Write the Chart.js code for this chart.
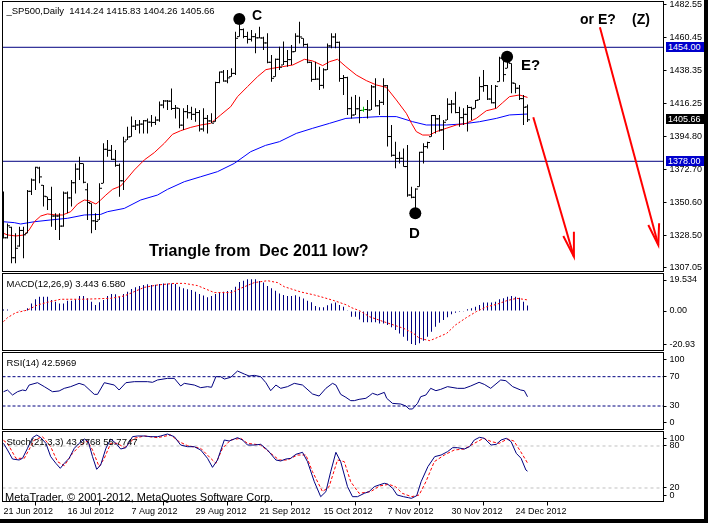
<!DOCTYPE html>
<html>
<head>
<meta charset="utf-8">
<script src="https://cdn.jsdelivr.net/npm/chart.js@4.4.1/dist/chart.umd.min.js"></script>
<style>
  html, body { margin: 0; padding: 0; background: #fff; }
  #wrap { position: relative; width: 708px; height: 523px; overflow: hidden; background: #fff;
          font-family: "Liberation Sans", Arial, sans-serif; }
  canvas { position: absolute; left: 0; }
  .lbl { position: absolute; white-space: pre; line-height: 1; font-size: 9.5px; color: #000; }
  .big { position: absolute; white-space: pre; line-height: 1; font-weight: bold; color: #000; }
  .box { position: absolute; left: 666px; width: 39px; height: 10px; line-height: 10px; font-size: 9px;
         color: #fff; padding-left: 2px; box-sizing: border-box; }
  .edge { position: absolute; background: #000; }
</style>
</head>
<body>
<div id="wrap">
  <canvas id="cMain" width="708" height="273" style="top:0"></canvas>
  <canvas id="cMacd" width="708" height="80" style="top:272px"></canvas>
  <canvas id="cRsi" width="708" height="80" style="top:351px"></canvas>
  <canvas id="cStoch" width="708" height="93" style="top:430px"></canvas>

  <div class="lbl" style="left:6.5px;top:6px">_SP500,Daily  1414.24 1415.83 1404.26 1405.66</div>
  <div class="lbl" style="left:6.5px;top:279px">MACD(12,26,9) 3.443 6.580</div>
  <div class="lbl" style="left:6.5px;top:358px">RSI(14) 42.5969</div>
  <div class="lbl" style="left:6.5px;top:437px">Stoch(21,3,3) 43.9768 55.7747</div>
  <div class="lbl" style="left:5px;top:492px;font-size:11px">MetaTrader, © 2001-2012, MetaQuotes Software Corp.</div>

  <div class="big" style="left:252px;top:8px;font-size:14px">C</div>
  <div class="big" style="left:521px;top:57px;font-size:15px">E?</div>
  <div class="big" style="left:409px;top:224.5px;font-size:15px">D</div>
  <div class="big" style="left:580px;top:11.5px;font-size:14px">or E?</div>
  <div class="big" style="left:632px;top:11.5px;font-size:14px">(Z)</div>
  <div class="big" style="left:149px;top:243px;font-size:16px">Triangle from  Dec 2011 low?</div>

  <div class="box" style="top:42px;background:#0000cc">1454.00</div>
  <div class="box" style="top:156px;background:#0000cc">1378.00</div>
  <div class="box" style="top:113.5px;background:#000">1405.66</div>

  <div class="edge" style="left:704px;top:0;width:4px;height:523px"></div>
  <div class="edge" style="left:0;top:519px;width:708px;height:4px"></div>
</div>
<script>
// bar index i sits at 3.5 + 4*i px; ticks every 16 bars
const xMin = -0.25, xMax = 165;
const dateTicks = [0, 16, 32, 48, 64, 80, 96, 112, 128];
const dateLabels = ['21 Jun 2012', '16 Jul 2012', '7 Aug 2012', '29 Aug 2012', '21 Sep 2012',
                    '15 Oct 2012', '7 Nov 2012', '30 Nov 2012', '24 Dec 2012'];
const priceTicks = [1482.55, 1460.45, 1438.35, 1416.25, 1394.80, 1372.70, 1350.60, 1328.50, 1307.05];
const macdTicks = [19.534, 0, -20.93];
const macdTickLabels = ['19.534', '0.00', '-20.93'];
// MetaTrader pulls the end labels inside the pane, so they sit a little in from 100 / 0
const rsiTickAt = [93.7, 70, 30, 7.2];
const rsiTickLabels = ['100', '70', '30', '0'];
const stochTickAt = [91, 80, 20, 9];
const stochTickLabels = ['100', '80', '20', '0'];

const barOpen = [1357.5,1327,1334,1313.7,1321.5,1331.9,1330,1358,1365.5,1373.5,
  1362,1354.4,1352.5,1341.5,1341.5,1334.8,1356.8,1353.6,1363.7,1372.8,
  1376.5,1359,1350,1338.3,1338.9,1363.3,1386,1385.3,1379.3,1375.3,
  1365,1392.2,1394.4,1401.4,1402.2,1402.8,1405,1404.1,1403.9,1405.5,
  1415.5,1418.2,1418.1,1413.2,1413.3,1402.1,1411.1,1410.4,1409.3,1410.5,
  1399.5,1406.6,1404.9,1404.4,1430.5,1437.5,1431.5,1434.4,1436.6,1461.1,
  1465.8,1461.2,1459.3,1461.1,1460.3,1460.2,1456.9,1444,1434.4,1446,
  1442.2,1444.5,1445.8,1451.1,1461.4,1460,1455.9,1444,1432.6,1432.8,
  1428.6,1439,1454.9,1460.9,1457.3,1433.2,1433.8,1413.1,1408.9,1413,
  1412,1412.5,1412.2,1427.6,1415,1417.3,1428.4,1394.5,1382,1379.9,
  1380,1374.5,1355.5,1354,1361.1,1384,1387.8,1394.4,1408.5,1406.3,
  1398.9,1405.5,1416,1416.2,1410.5,1407.1,1409.3,1413.9,1413.3,1418.9,
  1427.8,1428.5,1419.5,1417,1431.1,1446.8,1440,1443.3,1430,1426.7,
  1419.8,1414.24];
const barHigh = [1357.8,1336.6,1334.4,1330,1334.4,1334.4,1358.9,1366.6,1374.4,1374.4,
  1362.2,1354.4,1361.1,1343.3,1343.3,1357.8,1357.8,1365.5,1376.6,1381.1,
  1376.6,1363.3,1350,1343.3,1363.3,1390,1392.2,1388.9,1385.5,1376.6,
  1394.4,1401.1,1407.8,1405.5,1405.5,1405.5,1406.6,1408.9,1407.8,1417.8,
  1418.9,1418.9,1426.6,1415.5,1413.3,1413.3,1415.5,1414.4,1413.3,1412.2,
  1413.3,1408.9,1410,1431.1,1437.8,1438.9,1438.9,1440,1464.4,1468.9,
  1466.6,1464.4,1465.5,1463.3,1467.7,1461.1,1463.3,1448.9,1446.6,1454.4,
  1457.8,1452.2,1455.5,1463.3,1471.1,1460,1456.6,1444.4,1444.4,1441.1,
  1440,1456.6,1463.3,1463.3,1457.8,1435.5,1434.4,1421.1,1422.2,1421.1,
  1414.4,1418.9,1428.9,1433.3,1418.9,1433.3,1428.9,1402.2,1391.1,1384.4,
  1386.6,1388.9,1361.1,1360,1384.4,1390,1391.1,1408.9,1408.9,1408.9,
  1405.5,1420,1418.9,1424.4,1414.4,1413.3,1415.5,1414.4,1418.9,1434.4,
  1438.9,1428.9,1428.9,1428.9,1447.7,1450,1448.9,1443.3,1430,1428.9,
  1422.2,1415.83];
const barLow = [1326.6,1326.6,1310,1310,1321.1,1313.3,1330,1355.5,1358.9,1363.3,
  1347.8,1345.5,1334.4,1332.2,1325.5,1334.4,1343.3,1347.8,1356.6,1365.5,
  1363.3,1338.9,1330,1332.2,1338.9,1363.3,1381.1,1378.9,1374.4,1354.4,
  1358.9,1392.2,1394.4,1398.9,1396.6,1396.6,1396.6,1401.1,1402.2,1404.4,
  1413.3,1412.2,1412.2,1406.6,1400,1398.9,1406.6,1405.5,1404.4,1397.8,
  1397.8,1396.6,1403.3,1404.4,1430,1431.1,1430,1434.4,1435.5,1461.1,
  1460,1456.6,1457.8,1450,1460,1452.2,1443.3,1431.1,1434.4,1438.9,
  1442.2,1441.1,1442.2,1451.1,1456.6,1454.4,1443.3,1431.1,1432.2,1425.5,
  1426.6,1438.9,1453.3,1453.3,1431.1,1422.2,1408.9,1406.6,1408.9,1403.3,
  1411.1,1406.6,1412.2,1414.4,1408.9,1415.5,1387.8,1381.1,1373.3,1376.6,
  1374.4,1354.4,1353.3,1346.6,1361.1,1376.6,1386.6,1394.4,1396.6,1397.8,
  1385.5,1405.5,1410,1410,1401.1,1402.2,1397.8,1405.5,1413.3,1418.9,
  1424.4,1418.9,1416.6,1413.3,1431.1,1431.1,1440,1423.3,1423.3,1418.9,
  1402.2,1404.26];
const barClose = [1327,1335,1313.7,1320,1331.9,1329,1358,1365.5,1374,1367.6,
  1354.7,1352.5,1341.5,1341.5,1334.8,1356.8,1353.6,1363.7,1372.8,1376.5,
  1364,1350.5,1338.3,1337.9,1360,1386,1385.3,1379.3,1375.3,1365,
  1391,1394.2,1401.4,1402.2,1402.8,1405,1404.1,1403.9,1405.5,1415.5,
  1418.2,1418.1,1413.2,1413.5,1402.1,1411.1,1410.4,1409.3,1410.5,1399.5,
  1406.6,1404.9,1403.4,1430.5,1437.5,1431.5,1433.6,1436.6,1460,1465.8,
  1461.2,1459.3,1461.1,1460.3,1460.2,1456.9,1444,1433.3,1446,1440.7,
  1444.5,1445.8,1451,1461.4,1460.9,1455.9,1444,1432.6,1432.8,1428.6,
  1439,1454.9,1460.9,1457.3,1433.2,1433.8,1413.1,1408.8,1413,1411.9,
  1412.5,1412.2,1427.6,1415,1417.3,1428.4,1394.5,1382,1379.9,1380,
  1374.5,1355.5,1354,1359.5,1384,1387.8,1390.5,1408.5,1406.3,1398.9,
  1404,1416,1416.2,1410.5,1407.1,1409.3,1413.9,1413,1418.6,1427.8,
  1428.5,1419.5,1417,1428,1446.8,1435.8,1443.7,1430.2,1426.7,1419.8,
  1414,1405.66];
const greenBar = 90;

// moving averages as [bar, price]
const maRed = [[0,1330],[1,1328.9],[3.1,1328.2],[5.2,1328.9],[6.4,1332.2],[7.7,1337.7],[9.3,1341.5],
  [11,1342.9],[13.1,1342.2],[14.75,1342.2],[16.8,1344.4],[18.5,1349.5],[20.2,1352.2],[21.4,1351.7],
  [23.1,1349.5],[24.3,1352.2],[25.6,1355.5],[27.25,1359.3],[29.3,1361.5],[30.6,1365.5],[32.7,1372.2],
  [35.2,1378.9],[37.7,1383.8],[40.2,1390],[42.25,1396],[44.3,1398.4],[46.8,1400.6],[49.3,1402.2],
  [51.8,1403.3],[54.3,1408.9],[56.8,1414.4],[58.5,1421.1],[61,1427.8],[63.5,1434.4],[65.6,1439.1],
  [67.3,1440],[69.8,1441.1],[72.3,1442.2],[75.25,1446],[77.3,1444.9],[79.8,1441.8],[81.5,1444.4],
  [83.5,1446],[85.6,1441.1],[88.2,1435.5],[90.7,1431.8],[93.2,1428.9],[95.7,1427.3],[98.2,1418.9],
  [100.7,1410],[102,1403.3],[103.2,1397.8],[104.8,1395.5],[106.5,1395.5],[108.2,1397.8],[110.7,1400],
  [113.2,1402.2],[115.7,1403.3],[118.2,1406.6],[120.7,1411.7],[123.2,1413.3],[124.8,1417.1],
  [126.5,1421.1],[129,1422.2],[131,1420.6]];
const maBlue = [[0,1337.7],[2.7,1337.1],[4.3,1336.2],[7.7,1337.7],[11.8,1338.9],[16,1340],[20.2,1342.2],
  [24.3,1342.6],[26,1344.4],[30.2,1346.6],[34.3,1352.2],[38.5,1355.5],[41,1359.3],[45.2,1364.4],
  [49.3,1367.7],[53.5,1371.1],[57.7,1376.6],[61.8,1384.4],[65.5,1388.6],[69,1391.1],[73.2,1396.6],
  [77.3,1400],[81.5,1403.3],[85.6,1406.6],[89.8,1407.2],[94,1407.8],[98.2,1407.8],[102.3,1404.4],
  [105.7,1402.2],[110.7,1402.2],[114.8,1402.9],[119,1404.4],[123.2,1406.6],[126.5,1408.9],[131,1409.5]];
const levelLines = [1454, 1378];

// drawn annotations, [bar, price]
const pivotDots = [[58.95,1472.9],[125.9,1447.7],[102.95,1343.3]];
const arrowNear = [[132.45,1407.3],[142.6,1314.4]];
const arrowNearHead = [[139.95,1328.2],[142.6,1314.4],[142.6,1331.1]];
const arrowFar = [[149.1,1467.3],[163.7,1322.2]];
const arrowFarHead = [[161.2,1335.5],[163.7,1322.2],[163.9,1336.7]];

const macdMain = [1.0,1.0,0.3,-0.3,0.2,0.5,1.7,4.8,7.4,9.0,
  9.0,9.0,6.9,5.9,4.8,4.8,6.5,6.5,7.4,9.5,
  9.5,8.0,5.9,3.8,5.5,6.9,9.5,10.7,10.5,9.0,
  10.7,12.2,13.9,14.9,15.8,16.4,16.8,16.4,16.6,17.0,
  17.4,17.4,17.4,17.0,15.3,14.3,13.7,13.2,12.2,10.7,
  9.7,8.6,9.5,10.7,11.6,12.2,12.6,13.2,15.3,18.3,
  19.1,20.0,20.0,20.0,18.9,17.9,15.8,14.3,12.8,11.1,
  10.1,9.5,9.5,9.9,9.0,7.8,6.5,5.5,3.2,2.3,
  2.3,3.6,4.8,5.3,3.8,2.7,0.2,-3.6,-3.6,-5.3,
  -7.1,-7.1,-7.1,-7.1,-7.8,-7.8,-8.8,-10.3,-12.0,-14.1,
  -16.2,-18.7,-20.8,-21.4,-20.4,-18.7,-16.2,-13.0,-9.9,-7.4,
  -5.7,-4.0,-2.1,-1.1,-0.6,-0.1,1.1,1.7,2.7,3.8,
  5.3,5.3,5.3,5.9,7.4,8.0,9.0,9.5,9.0,8.4,
  5.9,3.4];
const macdSignal = [[0,-6.7],[1,-4.2],[3.1,-1.0],[4.3,-0.4],[6,0.6],[8.5,3.8],[11,5.5],[12.7,6.5],
  [14.3,7.4],[20,7.4],[26.8,8.0],[30.2,9.5],[32.7,12.2],[35.2,14.9],[38.5,16.4],[42.7,17.4],
  [45.2,17.4],[48.5,16.0],[52.7,11.6],[57,11.6],[59.3,14.3],[62.7,17.9],[66,19.1],[68.5,17.9],
  [70.2,15.3],[74.3,12.0],[77.7,10.1],[80,8.5],[82.7,6.5],[85.8,3.8],[87,2.1],[89,0.2],[91.5,-3.6],
  [95,-6.7],[97.5,-8.8],[100,-10.9],[102.5,-14.1],[104,-17.2],[106.6,-18.7],[108,-17.2],
  [110.8,-14.1],[113,-8.8],[115.7,-4.2],[118.2,-0.4],[120.8,2.7],[123.3,4.2],[125.8,6.5],
  [128.3,8.0],[131,7.0]];

const rsiLine = [[0,49.5],[1,51.8],[2.25,45],[3.5,49.5],[4.75,51.8],[5.6,50.9],[6.4,58.6],[8.5,61.8],
  [10.2,56.4],[12.25,49.5],[13.9,50.5],[15.2,54.1],[16.8,56.4],[18.9,60.9],[20.2,58.6],[22.7,45.9],
  [23.5,45.9],[25.2,61.8],[27.7,58.6],[28.9,51.8],[30.6,61.8],[32.7,63.2],[36,63.2],[37.25,62.3],
  [38.5,65.5],[41,67.7],[42.7,67.7],[44.3,57.3],[45.2,60.9],[47.7,58.6],[49.3,55],[51,56.4],
  [52,55.5],[53.1,70],[54.3,70],[55.2,66.8],[56.8,69.1],[58.5,77.7],[60.2,73.6],[61.4,70.9],
  [62.7,71.8],[64.3,70],[65.6,61.8],[66.8,50.9],[68.1,58.6],[69.3,54.1],[71,56.4],[72.7,60.9],
  [74.75,58.6],[77.25,46.4],[78.9,43.6],[80.6,54.1],[82.25,60.9],[83.1,58.6],[84.3,45.9],
  [85.6,41.8],[86.8,37.3],[87.7,37.3],[88.9,39.1],[90.6,40.5],[91.4,43.6],[92.25,47.3],[93.5,45],
  [95.2,48.6],[95.8,40.5],[97.25,33.6],[99.3,32.7],[100.6,30],[101.4,25.9],[102.25,25.9],
  [103.5,33.6],[104.3,42.7],[105.6,45],[106.8,54.1],[108.1,50.9],[109.3,52.7],[111,56.4],
  [113.5,54.1],[115.2,54.1],[116.8,57.3],[118.9,62.3],[120.2,59.5],[121.8,54.1],[124.3,65.5],
  [125.6,64.5],[127.3,56.4],[129.3,51.8],[130.2,50.9],[131,42.6]];
const rsiLevels = [70, 30];

const stochMain = [[0,83.8],[1,74.3],[2.25,61.4],[3.9,60],[4.75,62.4],[6,76.7],[7.25,91.9],[8.33,95.7],
  [9.33,91.9],[10.6,83.8],[11.8,64.8],[13.1,55.2],[14.2,48.1],[15.2,55.2],[16.4,62.4],[17.7,76.7],
  [18.9,83.8],[20.2,90],[21.2,86.2],[22.25,64.8],[23.3,46.7],[24.3,52.9],[25.6,76.7],[26.8,90],
  [28.1,83.8],[29.3,75.7],[30.6,77.6],[32.25,93.3],[33.5,94.3],[35.2,94.3],[36.8,93.3],[38.5,93.3],
  [39.3,94.3],[41,97.1],[42.7,93.3],[44.3,81.4],[46,79],[47.7,79],[49.3,74.3],[51,62.4],[52.25,49.5],
  [53.5,60],[55.2,88.6],[56.4,87.1],[58.5,91.9],[59.75,88.6],[61,81.4],[62.7,81.4],[64.3,82.4],
  [66,74.3],[68.1,60],[69.3,58.6],[70.6,61.4],[71.8,62.4],[73.1,68.1],[74.75,71],[76,57.6],
  [77.7,29],[79.3,7.6],[80.6,14.8],[81.8,43.3],[83.1,71],[84.3,57.6],[86,21.9],[87.25,7.6],
  [88.5,7.6],[90.2,12.4],[91.4,14.8],[92.7,21.9],[93.9,24.3],[95.2,26.7],[96,25.7],[97.3,19.5],
  [98.4,10],[100,7.6],[101.2,6.2],[102,5.2],[103.3,9],[104.4,29],[106.1,50.5],[107.8,64.8],
  [109.4,67.1],[111,71.9],[112.3,77.6],[113.5,77.6],[115.2,75.7],[116.5,79],[117.7,88.6],
  [119,92.4],[120.2,91],[121.9,81.4],[123.2,82.4],[124.4,88.6],[125.7,91],[126.9,86.2],
  [128.2,69.5],[129.4,62.4],[130.6,45.7],[131,44]];
const stochSignal = [[0,88],[1,83.8],[3.1,62.4],[5.2,62.4],[7.7,88.6],[9.75,93.3],[11.8,79],[13.5,57.6],
  [15.2,51.9],[17.25,69.5],[19.3,81.4],[21,87.1],[22.25,74.3],[23.9,50.5],[25.2,62.4],[26.8,83.8],
  [28.5,83.8],[30.2,77.6],[32.7,91],[35.2,94.3],[38.5,91.9],[41.8,95.7],[43.9,86.2],[46,80.5],
  [49.3,76.7],[51.8,62.4],[53.1,55.2],[54.75,76.7],[56.8,88.6],[59.3,91],[61,83.8],[64.3,81.4],
  [66.8,69.5],[68.9,60],[71,60],[73.5,67.1],[75.6,67.1],[77.25,43.3],[79.75,14.8],[81.4,21.9],
  [83.5,60],[85.2,57.6],[86.8,29],[88.9,12.4],[91.8,14.8],[94,22.9],[96.3,25.2],[98,21.9],
  [99.7,12.4],[102,7.6],[103.9,10],[105.6,29],[107.7,57.6],[110.2,67.1],[112.7,74.3],[115.2,75.7],
  [117.7,83.8],[120,91],[122,86.2],[123.9,83.8],[126,90],[127.6,87.1],[129.3,71.9],[131,55.8]];
const stochLevels = [80, 20];

Chart.defaults.font.family = '"Liberation Sans", Arial, sans-serif';
Chart.defaults.font.size = 9;
Chart.defaults.color = '#000';

const NAVY = '#000080';
const pts = arr => arr.map(([x, y]) => ({ x, y }));
const across = v => [{ x: xMin, y: v }, { x: xMax, y: v }];
const line = (data, color, extra = {}) => ({
  type: 'line', data, borderColor: color, borderWidth: 1, pointRadius: 0, fill: false, tension: 0, ...extra
});

// panel border
const frame = {
  id: 'frame',
  afterDraw(chart) {
    const { ctx, chartArea: a } = chart;
    ctx.save();
    ctx.strokeStyle = '#000';
    ctx.lineWidth = 1;
    ctx.strokeRect(a.left, a.top, a.right - a.left, a.bottom - a.top);
    ctx.restore();
  }
};

// scales must not reserve room for their end labels
const noPad = s => { s.paddingTop = 0; s.paddingBottom = 0; s.paddingLeft = 0; s.paddingRight = 0; };

function yAxis(min, max, ticks, labels) {
  return {
    position: 'right', min, max, beginAtZero: false,
    afterFit: s => { s.width = 44.5; noPad(s); },
    afterBuildTicks: s => { s.ticks = ticks.map(v => ({ value: v })); },
    grid: { drawOnChartArea: false, tickLength: 3, color: '#000' },
    border: { display: false },
    ticks: { padding: 3, autoSkip: false,
             callback: v => (labels ? labels[ticks.indexOf(v)] : v.toFixed(2)) }
  };
}

const hiddenX = { type: 'linear', min: xMin, max: xMax, offset: false, display: false };
const dateX = {
  type: 'linear', min: xMin, max: xMax, offset: false, position: 'bottom',
  afterFit: s => { s.height = 21.5; noPad(s); },
  afterBuildTicks: s => { s.ticks = dateTicks.map(v => ({ value: v })); },
  grid: { drawOnChartArea: false, tickLength: 4, color: '#000' },
  border: { display: false },
  ticks: { align: 'start', maxRotation: 0, autoSkip: false, padding: 1,
           callback: v => dateLabels[dateTicks.indexOf(v)] }
};

function panel(id, datasets, x, y, bottomPad) {
  return new Chart(document.getElementById(id), {
    type: 'bar',
    data: { datasets },
    options: {
      responsive: false, animation: false, events: [],
      layout: { autoPadding: false, padding: { left: 2.5, top: 1.5, right: 0, bottom: bottomPad } },
      plugins: { legend: { display: false }, tooltip: { enabled: false } },
      scales: { x, y }
    },
    plugins: [frame]
  });
}

const bars = barHigh.map((_, i) => i);
const barColor = i => (i === greenBar ? '#00c000' : '#000');

panel('cMain', [
  { type: 'line', showLine: false, data: pts(pivotDots), pointRadius: 6, pointBackgroundColor: '#000',
    pointBorderColor: '#000', pointBorderWidth: 0 },
  line(pts(arrowNear), '#ff0000', { borderWidth: 2 }),
  line(pts(arrowNearHead), '#ff0000', { borderWidth: 2 }),
  line(pts(arrowFar), '#ff0000', { borderWidth: 2 }),
  line(pts(arrowFarHead), '#ff0000', { borderWidth: 2 }),
  { type: 'bar', data: bars.map(i => ({ x: i, y: [barLow[i], barHigh[i]] })),
    backgroundColor: bars.map(barColor), barThickness: 1, borderWidth: 0, inflateAmount: 0 },
  { type: 'line', showLine: false, data: bars.map(i => ({ x: i - 0.375, y: barOpen[i] })),
    pointStyle: 'line', pointRadius: 1, pointBorderWidth: 1, pointBorderColor: bars.map(barColor) },
  { type: 'line', showLine: false, data: bars.map(i => ({ x: i + 0.375, y: barClose[i] })),
    pointStyle: 'line', pointRadius: 1, pointBorderWidth: 1, pointBorderColor: bars.map(barColor) },
  line(pts(maRed), '#ff0000'),
  line(pts(maBlue), '#0000ff'),
  ...levelLines.map(v => line(across(v), NAVY))
], hiddenX, yAxis(1304.53, 1484.53, priceTicks, null), 1.5);

panel('cMacd', [
  line(pts(macdSignal), '#ff0000', { borderDash: [2, 2] }),
  { type: 'bar', data: bars.map(i => ({ x: i, y: macdMain[i] })), backgroundColor: NAVY,
    barThickness: 1, borderWidth: 0, inflateAmount: 0 }
], hiddenX, yAxis(-24.89, 23.63, macdTicks, macdTickLabels), 1.5);

panel('cRsi', [
  line(pts(rsiLine), NAVY),
  ...rsiLevels.map(v => line(across(v), NAVY, { borderDash: [3, 2] }))
], hiddenX, yAxis(-2.06, 102.99, rsiTickAt, rsiTickLabels), 1.5);

panel('cStoch', [
  line(pts(stochMain), NAVY),
  line(pts(stochSignal), '#ff0000', { borderDash: [3, 2] }),
  ...stochLevels.map(v => line(across(v), '#c0c0c0', { borderDash: [3, 3] }))
], dateX, yAxis(0.71, 100.71, stochTickAt, stochTickLabels), 0);
</script>
</body>
</html>
